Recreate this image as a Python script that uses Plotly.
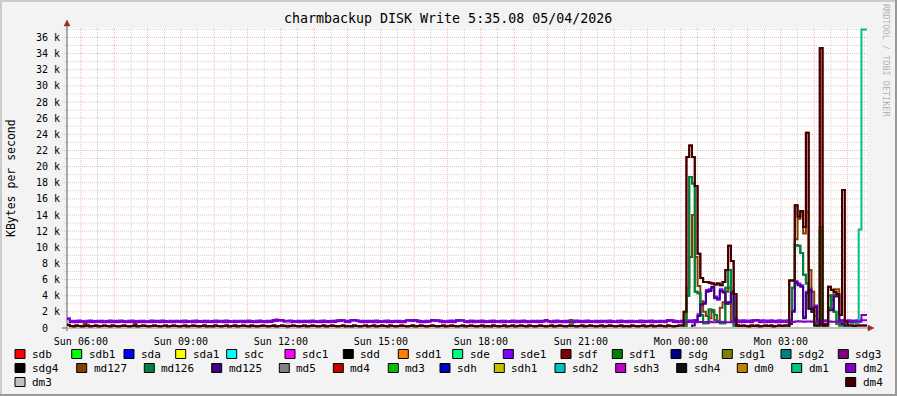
import plotly.graph_objects as go
import pandas as pd

# ---------------- data ----------------
START = "2026-05-03 05:35"
END = "2026-05-04 05:35"
N_SUN = 221   # 5-minute steps from Sun 05:35 to Sun 23:55
N_MON = 67    # 5-minute steps from Sun 23:55 to Mon 05:35

series_names = ["sdb", "sdb1", "sda", "sda1", "sdc", "sdc1", "sdd", "sdd1",
                "sde", "sde1", "sdf", "sdf1", "sdg", "sdg1", "sdg2", "sdg3",
                "sdg4", "md127", "md126", "md125", "md5", "md4", "md3", "sdh",
                "sdh1", "sdh2", "sdh3", "sdh4", "dm0", "dm1", "dm2",
                "dm3", "dm4"]
series_colors = ["#FF0000", "#00FF00", "#0000FF", "#FFFF00", "#00FFFF", "#FF00FF", "#000000", "#FF8000",
                 "#00FF80", "#8000FF", "#800000", "#008000", "#000080", "#808000", "#008080", "#800080",
                 "#000000", "#804000", "#008040", "#400080", "#808080", "#C00000", "#00C000", "#0000C0",
                 "#C0C000", "#00C0C0", "#C000C0", "#101010", "#C08000", "#00C080", "#8000C0",
                 "#C0C0C0", "#400000"]

x_tick_times = ["2026-05-03 06:00", "2026-05-03 09:00", "2026-05-03 12:00", "2026-05-03 15:00",
                "2026-05-03 18:00", "2026-05-03 21:00", "2026-05-04 00:00", "2026-05-04 03:00"]
x_tick_labels = ["Sun 06:00", "Sun 09:00", "Sun 12:00", "Sun 15:00",
                 "Sun 18:00", "Sun 21:00", "Mon 00:00", "Mon 03:00"]
y_tick_values = [0, 2000, 4000, 6000, 8000, 10000, 12000, 14000, 16000, 18000,
                 20000, 22000, 24000, 26000, 28000, 30000, 32000, 34000, 36000]
y_tick_labels = ["0\u00a0\u00a0", "2 k", "4 k", "6 k", "8 k", "10 k", "12 k", "14 k", "16 k", "18 k",
                 "20 k", "22 k", "24 k", "26 k", "28 k", "30 k", "32 k", "34 k", "36 k"]

# KBytes/s, Sunday part (steps 0..220)
dm2_sun = [1200,
           750, 720, 700, 740, 760, 700, 720, 750, 700, 730,
           760, 720, 700, 740, 710, 750, 720, 700, 760, 730,
           700, 720, 760, 740, 700, 710, 750, 720, 740, 700,
           730, 760, 720, 700, 740, 750, 710, 700, 760, 730,
           720, 700, 750, 740, 700, 720, 760, 730, 700, 740,
           750, 720, 700, 740, 760, 720, 700, 750, 730, 710,
           740, 760, 720, 700, 750, 730, 700, 720, 760, 740,
           700, 730, 750, 1000, 1050, 1000, 980, 760, 720, 700,
           740, 760, 720, 700, 750, 730, 710, 760, 740, 700,
           720, 750, 730, 700, 760, 740, 950, 1000, 960, 740,
           720, 980, 1000, 950, 760, 720, 700, 740, 760, 720,
           700, 750, 730, 760, 720, 700, 740, 760, 730, 700,
           720, 950, 1000, 980, 1000, 760, 720, 700, 740, 760,
           980, 1000, 950, 760, 720, 700, 740, 750, 720, 1000,
           980, 960, 740, 720, 760, 700, 740, 760, 720, 700,
           750, 730, 700, 760, 740, 720, 700, 750, 730, 760,
           720, 700, 740, 760, 720, 700, 750, 730, 700, 740,
           760, 1000, 760, 720, 700, 740, 760, 720, 700, 750,
           730, 700, 760, 740, 720, 700, 750, 730, 760, 720,
           700, 740, 760, 720, 700, 750, 730, 700, 740, 760,
           720, 700, 750, 730, 760, 720, 700, 740, 760, 720,
           700, 750, 730, 760, 720, 1000, 980, 740, 720, 700]
sde1_sun = [1100,
            890, 860, 910, 930, 870, 850, 900, 920, 880, 860,
            910, 890, 850, 870, 920, 900, 860, 890, 930, 870,
            850, 900, 920, 880, 860, 910, 890, 850, 870, 920,
            900, 860, 890, 930, 870, 850, 910, 880, 900, 860,
            890, 920, 870, 850, 900, 930, 880, 860, 910, 890,
            850, 870, 920, 900, 860, 890, 930, 870, 850, 910,
            880, 900, 860, 890, 920, 870, 850, 900, 930, 880,
            860, 910, 890, 850, 870, 920, 900, 860, 890, 930,
            870, 850, 910, 880, 900, 860, 890, 920, 870, 850,
            900, 930, 880, 860, 910, 890, 850, 870, 920, 900,
            860, 890, 930, 870, 850, 910, 880, 900, 860, 890,
            920, 870, 850, 900, 930, 880, 860, 910, 890, 850,
            870, 920, 900, 860, 890, 930, 870, 850, 910, 880,
            900, 860, 890, 920, 870, 850, 900, 930, 880, 860,
            910, 890, 850, 870, 920, 900, 860, 890, 930, 870,
            850, 900, 920, 880, 860, 910, 890, 850, 870, 920,
            900, 860, 890, 930, 870, 850, 910, 880, 900, 860,
            890, 920, 870, 850, 900, 930, 880, 860, 910, 890,
            850, 870, 920, 900, 860, 890, 930, 870, 850, 910,
            880, 900, 860, 890, 920, 870, 850, 900, 930, 880,
            860, 910, 890, 850, 870, 920, 900, 860, 890, 930,
            870, 850, 910, 880, 900, 860, 890, 920, 870, 850]
dm4_sun = [400,
           250, 200, 300, 250, 200, 250, 300, 200, 250, 300,
           200, 250, 300, 250, 200, 300, 250, 200, 250, 300,
           250, 200, 250, 300, 200, 250, 300, 250, 200, 250,
           300, 250, 200, 250, 300, 200, 250, 300, 250, 200,
           250, 300, 200, 250, 300, 250, 200, 250, 300, 200,
           250, 200, 300, 250, 200, 250, 300, 200, 250, 300,
           200, 250, 300, 250, 200, 300, 250, 200, 250, 300,
           250, 200, 250, 300, 200, 250, 300, 250, 200, 250,
           300, 250, 200, 250, 300, 200, 250, 300, 250, 200,
           250, 300, 200, 250, 300, 250, 200, 250, 300, 200,
           250, 200, 300, 250, 200, 250, 300, 200, 250, 300,
           200, 250, 300, 250, 200, 300, 250, 200, 250, 300,
           250, 200, 250, 300, 200, 250, 300, 250, 200, 250,
           300, 250, 200, 250, 300, 200, 250, 300, 250, 200,
           250, 300, 200, 250, 300, 250, 200, 250, 300, 200,
           250, 200, 300, 250, 200, 250, 300, 200, 250, 300,
           200, 250, 300, 250, 200, 300, 250, 200, 250, 300,
           250, 200, 250, 300, 200, 250, 300, 250, 200, 250,
           300, 250, 200, 250, 300, 200, 250, 300, 250, 200,
           250, 300, 200, 250, 300, 250, 200, 250, 300, 200,
           250, 200, 300, 250, 200, 250, 300, 200, 250, 300,
           200, 250, 300, 250, 200, 300, 250, 200, 250, 300]
# sparse Sunday readings (step index -> value), zero elsewhere
md127_sun_nonzero = {6: 500, 24: 500, 181: 1000}
dm1_sun_nonzero = {181: 500}
dm3_sun_nonzero = {79: 600}

# Monday part (steps 221..287)
dm2_mon = [720, 700, 740, 760, 720, 700, 750, 730, 700, 740,
           760, 720, 700, 750, 730, 760, 720, 700, 740, 760,
           720, 700, 750, 730, 760, 720, 950, 1000, 740, 720,
           700, 750, 730, 760, 720, 700, 740, 760, 720, 700,
           750, 800, 850, 800, 760, 800, 820, 780, 760, 800,
           760, 800, 820, 800, 780, 760, 800, 760, 780, 800,
           760, 740, 780, 800, 760, 1600, 1600]
sde1_mon = [900, 950, 950, 900, 950, 1000, 1700, 3000, 3200, 4700,
            4800, 5000, 3900, 3500, 4800, 4600, 3200, 3000, 4600, 1200,
            950, 900, 950, 930, 900, 950, 910, 940, 900, 950,
            930, 900, 950, 910, 900, 950, 930, 900, 950, 950,
            2200, 5800, 5500, 5300, 1400, 4500, 4900, 2200, 2800, 1000,
            950, 900, 950, 2400, 2400, 4100, 4100, 1000, 950, 900,
            950, 930, 900, 950, 930, 950, 950]
dm4_mon = [300, 2000, 21200, 22600, 21200, 17600, 9200, 6200, 5700, 5700,
           5600, 5500, 5400, 5500, 5300, 5700, 7200, 10200, 8300, 4200,
           300, 250, 300, 250, 200, 300, 250, 300, 200, 250,
           300, 250, 300, 200, 250, 300, 250, 300, 300, 5900,
           5900, 15200, 13800, 14500, 12500, 24200, 2400, 2400, 300, 300,
           34700, 300, 300, 5100, 4700, 4500, 4200, 1600, 17100, 800,
           300, 300, 250, 300, 300, 300, 300]
md127_mon = [0, 400, 5000, 8800, 14000, 8800, 5200, 3300, 2000, 1500,
             1200, 2000, 1000, 800, 2500, 3200, 4500, 5000, 800, 300,
             0, 0, 0, 0, 0, 0, 0, 0, 0, 0,
             0, 0, 0, 0, 0, 0, 0, 0, 200, 5900,
             5900, 11000, 13500, 14400, 11700, 14400, 7200, 4500, 1500, 500,
             12500, 500, 500, 4000, 3500, 4800, 4800, 500, 500, 0,
             0, 0, 0, 0, 0, 0, 0]
md126_mon = [0, 0, 4000, 18700, 17900, 4500, 4300, 1600, 600, 600,
             2300, 2200, 1600, 800, 600, 600, 5000, 7200, 4500, 300,
             100, 0, 0, 0, 0, 0, 0, 0, 0, 0,
             0, 0, 0, 0, 0, 0, 0, 0, 0, 1000,
             5000, 10300, 10200, 9300, 6600, 5500, 2400, 2000, 500, 300,
             12000, 300, 300, 2500, 4100, 2000, 500, 300, 300, 0,
             0, 0, 0, 0, 0, 0, 0]
md125_mon = [0, 0, 0, 0, 300, 800, 1500, 2900, 3000, 4500,
             4600, 5100, 3700, 3700, 4600, 4400, 3000, 3200, 4400, 1000,
             300, 0, 0, 0, 0, 0, 0, 0, 0, 0,
             0, 0, 0, 0, 0, 0, 0, 0, 0, 500,
             2000, 5600, 5300, 5100, 1200, 4300, 4700, 2000, 2600, 800,
             500, 300, 500, 2200, 2200, 3900, 3900, 800, 500, 300,
             0, 0, 0, 0, 0, 0, 0]
dm1_mon_nonzero = {60: 300, 61: 600, 62: 600, 63: 600, 64: 12200, 65: 37000, 66: 37000}

for arr in (dm2_sun, sde1_sun, dm4_sun):
    assert len(arr) == N_SUN, len(arr)
for arr in (dm2_mon, sde1_mon, dm4_mon, md127_mon, md126_mon, md125_mon):
    assert len(arr) == N_MON, len(arr)


def from_sparse(nonzero, n):
    vals = [0] * n
    for k, v in nonzero.items():
        vals[k] = v
    return vals


values = {name: [0] * (N_SUN + N_MON) for name in series_names}
values["sde1"] = sde1_sun + sde1_mon
values["sdf"] = dm4_sun + dm4_mon
values["md127"] = from_sparse(md127_sun_nonzero, N_SUN) + md127_mon
values["md126"] = [0] * N_SUN + md126_mon
values["sdf1"] = [0] * N_SUN + md126_mon
values["md125"] = [0] * N_SUN + md125_mon
values["dm1"] = from_sparse(dm1_sun_nonzero, N_SUN) + from_sparse(dm1_mon_nonzero, N_MON)
values["dm2"] = dm2_sun + dm2_mon
values["dm3"] = from_sparse(dm3_sun_nonzero, N_SUN) + [0] * N_MON
values["dm4"] = dm4_sun + dm4_mon

times = pd.date_range(START, END, freq="5min")   # 289 edges

# ---------------- layout helpers ----------------
W, H = 897, 396
L, R, T, B = 67, 867, 28, 329
FONT = "DejaVu Sans Mono"


def PX(x):
    return (x - L) / (R - L)


def PY(y):
    return (B - y) / (B - T)


fig = go.Figure()
for name, color in zip(series_names, series_colors):
    v = values[name]
    fig.add_trace(go.Scatter(
        x=times, y=v + [v[-1]], mode="lines", name=name,
        line=dict(color=color, width=2, shape="hv"),
        hoverinfo="skip", showlegend=False))

MAJOR_GRID = "#f5b8b8"
MINOR_GRID = "#d2d2d2"
shapes = []
# vertical grid: minor every 30 min, major every hour
for t in pd.date_range("2026-05-03 06:00", "2026-05-04 05:30", freq="30min"):
    major = t.minute == 0
    shapes.append(dict(type="line", xref="x", yref="paper", x0=t, x1=t, y0=PY(329), y1=1,
                       line=dict(color=MAJOR_GRID if major else MINOR_GRID, width=1, dash="1px,1px"),
                       layer="below"))
# horizontal grid: minor every 1k, major every 2k
for k in range(1, 38):
    major = k % 2 == 0
    shapes.append(dict(type="line", xref="paper", yref="y", x0=PX(62 if major else 64), x1=1,
                       y0=k * 1000, y1=k * 1000,
                       line=dict(color=MAJOR_GRID if major else MINOR_GRID, width=1, dash="1px,1px"),
                       layer="below"))
# axes and arrows
AX = "#5a5a5a"
ARW = "#9b2a2a"
shapes.append(dict(type="line", xref="paper", yref="paper", x0=PX(62), x1=PX(869), y0=PY(328), y1=PY(328),
                   line=dict(color=AX, width=1), layer="below"))
shapes.append(dict(type="line", xref="paper", yref="paper", x0=0, x1=0, y0=PY(331), y1=PY(24),
                   line=dict(color=AX, width=1), layer="below"))
shapes.append(dict(type="path", xref="paper", yref="paper",
                   path=f"M {PX(64)},{PY(26)} L {PX(70)},{PY(26)} L {PX(67)},{PY(20)} Z",
                   fillcolor=ARW, line=dict(color=ARW, width=0.5)))
shapes.append(dict(type="path", xref="paper", yref="paper",
                   path=f"M {PX(868)},{PY(325)} L {PX(868)},{PY(331)} L {PX(874)},{PY(328)} Z",
                   fillcolor=ARW, line=dict(color=ARW, width=0.5)))
# frame (3d shading)
shapes.append(dict(type="rect", xref="paper", yref="paper", x0=PX(0), x1=PX(W), y0=PY(0), y1=PY(2),
                   fillcolor="#cbcbcb", line=dict(width=0)))
shapes.append(dict(type="rect", xref="paper", yref="paper", x0=PX(0), x1=PX(2), y0=PY(0), y1=PY(H),
                   fillcolor="#cbcbcb", line=dict(width=0)))
shapes.append(dict(type="rect", xref="paper", yref="paper", x0=PX(0), x1=PX(W), y0=PY(H - 2), y1=PY(H),
                   fillcolor="#999999", line=dict(width=0)))
shapes.append(dict(type="rect", xref="paper", yref="paper", x0=PX(W - 2), x1=PX(W), y0=PY(0), y1=PY(H),
                   fillcolor="#999999", line=dict(width=0)))

annotations = [
    dict(text="charmbackup DISK Write 5:35.08 05/04/2026", xref="paper", yref="paper",
         x=PX(448), y=PY(19), xanchor="center", yanchor="middle", showarrow=False,
         font=dict(family=FONT, size=13.3, color="#000000")),
    dict(text="KBytes per second", xref="paper", yref="paper", x=PX(11), y=PY(178),
         xanchor="center", yanchor="middle", textangle=-90, showarrow=False,
         font=dict(family=FONT, size=11.5, color="#000000")),
    dict(text="RRDTOOL / TOBI OETIKER", xref="paper", yref="paper", x=PX(886), y=PY(60),
         xanchor="center", yanchor="middle", textangle=90, showarrow=False,
         font=dict(family=FONT, size=8.5, color="#b4b4b4")),
]

# legend (rrdtool style)
legend_rows = [series_names[0:16], series_names[16:31], series_names[31:33]]
legend_box_x = [[15, 71.7, 124, 175.7, 226.7, 285, 343.3, 398.3, 452.7, 503.3, 561, 612.3, 671, 722.3, 781, 838.3],
                [15, 76.7, 144.3, 211.7, 279.3, 333.3, 388.3, 440, 494.3, 555, 615.7, 676.7, 737.3, 791.7, 845.7],
                [15, 845.7]]
legend_row_y = [354, 368, 382]
color_of = dict(zip(series_names, series_colors))
for row, xs, cy in zip(legend_rows, legend_box_x, legend_row_y):
    for name, bx in zip(row, xs):
        shapes.append(dict(type="rect", xref="paper", yref="paper",
                           x0=PX(bx), x1=PX(bx + 10), y0=PY(cy + 4.5), y1=PY(cy - 4.5),
                           fillcolor=color_of[name], line=dict(color="#000000", width=1)))
        annotations.append(dict(text=name, xref="paper", yref="paper", x=PX(bx + 15), y=PY(cy),
                                xanchor="left", yanchor="middle", showarrow=False,
                                font=dict(family=FONT, size=11, color="#000000")))

fig.update_layout(
    width=W, height=H,
    margin=dict(l=L, r=W - R, t=T, b=H - B, pad=0),
    paper_bgcolor="#f3f3f3", plot_bgcolor="#ffffff",
    showlegend=False,
    xaxis=dict(type="date", range=[START, END], tickvals=x_tick_times, ticktext=x_tick_labels,
               showgrid=False, zeroline=False, showline=False,
               ticks="outside", ticklen=3, tickcolor="rgba(0,0,0,0)",
               tickfont=dict(family=FONT, size=10, color="#000000"), fixedrange=True),
    yaxis=dict(range=[-124, 37174], tickvals=y_tick_values, ticktext=y_tick_labels,
               showgrid=False, zeroline=False, showline=False,
               ticks="outside", ticklen=4, tickcolor="rgba(0,0,0,0)",
               tickfont=dict(family=FONT, size=10, color="#000000"), fixedrange=True),
    shapes=shapes, annotations=annotations,
)

fig.write_html("out.html", config={"displayModeBar": False})
